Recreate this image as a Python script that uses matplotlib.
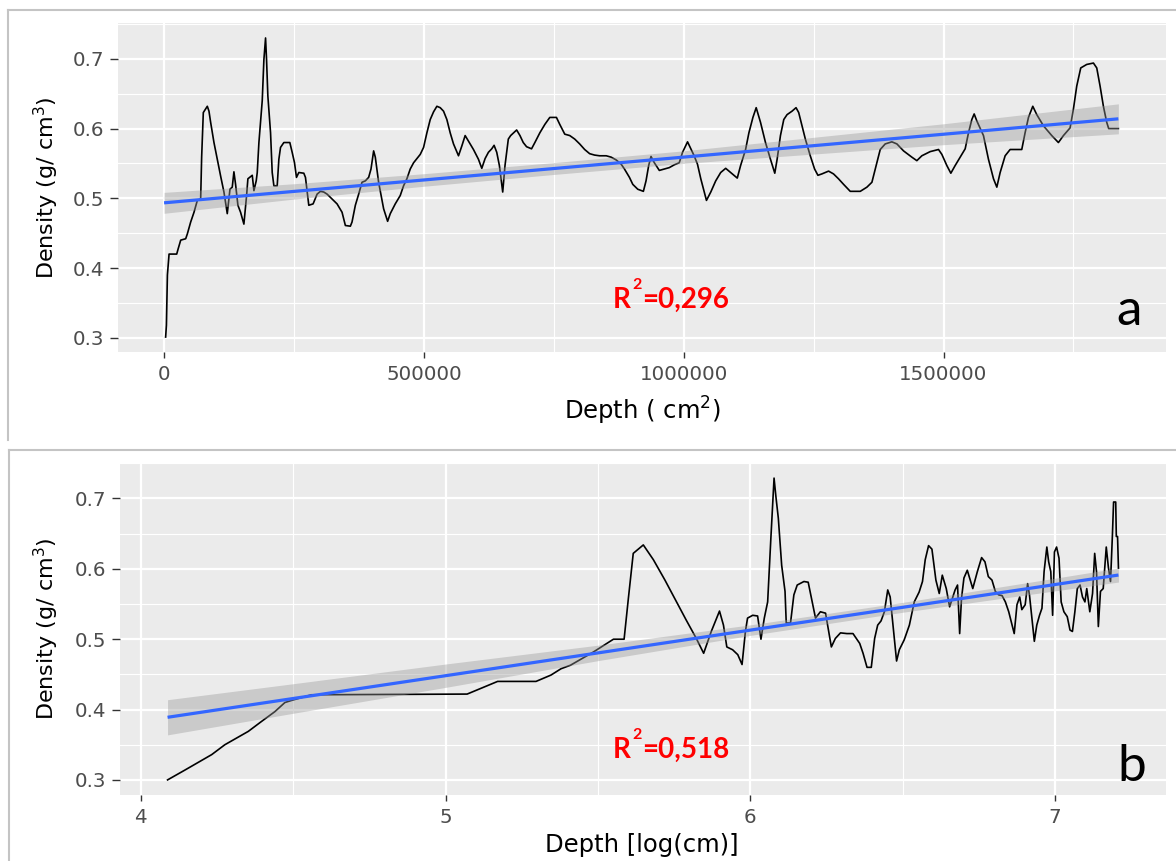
import numpy as np
import matplotlib
matplotlib.use("Agg")
import matplotlib.pyplot as plt
from matplotlib.ticker import FixedLocator
from matplotlib.lines import Line2D

# ---------------- data ----------------
depth_a = [3000, 4500, 6400, 9600, 24300, 26900, 32000, 41600, 44800, 51200,
           57600, 64000, 70400, 72300, 75500, 83200, 86400, 89600, 96000, 102400,
           108800, 115200, 121600, 126800, 131200, 134400, 137600, 142100, 147200, 153600,
           158800, 161300, 169700, 172900, 177300, 179300, 182500, 188900, 192100, 195300,
           197200, 199700, 204900, 208100, 211300, 217700, 220900, 224100, 230500, 242000,
           246500, 251000, 254800, 259300, 268900, 272100, 278500, 286800, 294500, 300900,
           307300, 313700, 323300, 332900, 342500, 348900, 358500, 361700, 368100, 374500,
           380900, 387300, 393700, 398200, 403300, 406500, 412900, 422500, 430200, 435300,
           444900, 454500, 460900, 467300, 473700, 480200, 486600, 493000, 499400, 505800,
           512200, 518600, 525000, 531400, 537800, 544200, 550600, 557000, 566600, 573000,
           579400, 585800, 595400, 605000, 611400, 617800, 624200, 630600, 635100, 640200,
           645300,
           651700, 656100, 662500, 667000, 678500, 684900, 691200, 697600, 707200, 713600,
           723200, 732800, 742300, 755100, 761500, 771100, 780700, 790200, 799800, 809400,
           819000, 828500, 838100, 850900, 860500, 870100, 879600, 886000, 895600, 902000,
           911600, 922400, 927500, 932600, 937100, 943500, 953100, 962700, 972200, 981800,
           991400, 997800, 1007400, 1013700, 1020100, 1026500, 1032900, 1043800, 1052100, 1061600,
           1071200, 1080800, 1090400, 1103100, 1109500, 1119100, 1125500, 1133200, 1139500, 1147800,
           1157400, 1167000, 1175300, 1179800, 1186200, 1192600, 1198900, 1208500, 1216200, 1221300,
           1227700, 1234100, 1243600, 1251900, 1258300, 1266000, 1278800, 1288300, 1297900,
           1307700, 1320500, 1339800, 1352600, 1362200, 1368600, 1378200, 1387800, 1400600, 1410300,
           1423100, 1439100, 1448700, 1458300, 1474400, 1490400, 1496800, 1506400, 1514100, 1522400,
           1532100, 1541700, 1548100, 1554500, 1559000, 1564100, 1576900, 1586500, 1596200, 1602600,
           1609000, 1618600, 1628200, 1650600, 1657000, 1663500, 1671800, 1679500, 1692300, 1708300,
           1721100, 1730800, 1743600, 1750000, 1756400, 1764100, 1775600, 1788500, 1794900, 1801300,
           1807700, 1814100, 1817900, 1836500]

density_a = [0.301, 0.318, 0.390, 0.420, 0.420, 0.427, 0.440, 0.442, 0.449, 0.466,
             0.480, 0.497, 0.499, 0.559, 0.623, 0.632, 0.625, 0.609, 0.580, 0.556,
             0.532, 0.509, 0.478, 0.513, 0.516, 0.538, 0.520, 0.490, 0.480, 0.463,
             0.504, 0.528, 0.533, 0.511, 0.525, 0.537, 0.580, 0.640, 0.699, 0.730,
             0.699, 0.647, 0.594, 0.537, 0.518, 0.518, 0.556, 0.573, 0.580, 0.580,
             0.566, 0.551, 0.530, 0.537, 0.536, 0.530, 0.490, 0.492, 0.506, 0.510,
             0.509, 0.506, 0.499, 0.492, 0.480, 0.461, 0.460, 0.466, 0.490, 0.506,
             0.523, 0.525, 0.530, 0.542, 0.568, 0.559, 0.523, 0.485, 0.467, 0.478,
             0.492, 0.504, 0.518, 0.528, 0.542, 0.551, 0.557, 0.563, 0.573, 0.594,
             0.613, 0.624, 0.632, 0.630, 0.625, 0.613, 0.594, 0.578, 0.561, 0.575,
             0.590, 0.582, 0.570, 0.556, 0.543, 0.557, 0.566, 0.571, 0.576, 0.566,
             0.547,
             0.509, 0.547, 0.585, 0.590, 0.598, 0.590, 0.580, 0.574, 0.571, 0.580,
             0.594, 0.606, 0.616, 0.616, 0.606, 0.592, 0.590, 0.585, 0.578, 0.570,
             0.564, 0.562, 0.561, 0.561, 0.559, 0.555, 0.549, 0.542, 0.530, 0.520,
             0.513, 0.510, 0.525, 0.547, 0.560, 0.551, 0.540, 0.542, 0.544, 0.548,
             0.551, 0.566, 0.581, 0.571, 0.561, 0.549, 0.528, 0.497, 0.509, 0.525,
             0.537, 0.543, 0.537, 0.529, 0.547, 0.570, 0.594, 0.616, 0.630, 0.609,
             0.580, 0.556, 0.536, 0.556, 0.590, 0.613, 0.620, 0.625, 0.630, 0.623,
             0.604, 0.585, 0.561, 0.542, 0.533, 0.535, 0.539, 0.535, 0.528,
             0.520, 0.510, 0.510, 0.516, 0.523, 0.542, 0.570, 0.578, 0.581, 0.578,
             0.568, 0.559, 0.554, 0.561, 0.567, 0.570, 0.563, 0.547, 0.536, 0.547,
             0.559, 0.571, 0.594, 0.613, 0.621, 0.611, 0.590, 0.556, 0.528, 0.516,
             0.537, 0.561, 0.570, 0.570, 0.594, 0.616, 0.632, 0.620, 0.604, 0.590,
             0.580, 0.590, 0.601, 0.628, 0.661, 0.687, 0.692, 0.694, 0.687, 0.661,
             0.632, 0.609, 0.600, 0.600]

logdepth_b = [4.088, 4.145, 4.233, 4.276, 4.353, 4.396, 4.440, 4.473, 4.495, 4.560,
              5.071, 5.171, 5.297, 5.346, 5.379, 5.410, 5.486, 5.551, 5.586, 5.600,
              5.616, 5.649, 5.682, 5.720, 5.752, 5.790, 5.823, 5.847, 5.872, 5.899,
              5.912, 5.923, 5.942, 5.959, 5.973, 5.984, 5.991, 6.008, 6.024, 6.035,
              6.046, 6.057, 6.067, 6.078, 6.084, 6.092, 6.103, 6.114, 6.118, 6.132,
              6.143, 6.154, 6.176, 6.190, 6.203, 6.214, 6.230, 6.247, 6.266, 6.279,
              6.296, 6.317, 6.337, 6.359, 6.370, 6.383, 6.397, 6.408, 6.418, 6.429,
              6.440, 6.451, 6.459, 6.467, 6.480, 6.489, 6.505, 6.522, 6.538, 6.554,
              6.565, 6.574, 6.585, 6.596, 6.609, 6.620, 6.630, 6.643, 6.654, 6.663,
              6.672, 6.680, 6.687, 6.693, 6.701, 6.712, 6.730, 6.745, 6.759, 6.770,
              6.781, 6.793, 6.804, 6.815, 6.826, 6.837, 6.848, 6.859, 6.866, 6.875,
              6.884, 6.891, 6.902, 6.910, 6.916, 6.924, 6.932, 6.940, 6.949, 6.957,
              6.964, 6.973, 6.979, 6.986, 6.992, 6.998, 7.005, 7.013, 7.020, 7.029,
              7.040, 7.049, 7.057, 7.065, 7.073, 7.082, 7.090, 7.098, 7.104, 7.114,
              7.123, 7.130, 7.136, 7.142, 7.149, 7.158, 7.163, 7.168, 7.175, 7.182,
              7.188, 7.192, 7.199, 7.201, 7.205, 7.208]

density_b = [0.300, 0.314, 0.336, 0.350, 0.369, 0.383, 0.397, 0.410, 0.413, 0.421,
             0.422, 0.440, 0.440, 0.449, 0.458, 0.463, 0.482, 0.500, 0.500, 0.558,
             0.622, 0.634, 0.613, 0.584, 0.558, 0.527, 0.501, 0.480, 0.511, 0.540,
             0.520, 0.489, 0.485, 0.478, 0.464, 0.511, 0.530, 0.534, 0.533, 0.500,
             0.530, 0.553, 0.639, 0.729, 0.703, 0.672, 0.605, 0.568, 0.523, 0.523,
             0.563, 0.577, 0.582, 0.581, 0.553, 0.530, 0.539, 0.537, 0.489, 0.501,
             0.509, 0.508, 0.508, 0.494, 0.480, 0.460, 0.460, 0.501, 0.520, 0.526,
             0.539, 0.570, 0.560, 0.525, 0.469, 0.485, 0.499, 0.520, 0.553, 0.567,
             0.582, 0.613, 0.633, 0.628, 0.584, 0.565, 0.591, 0.572, 0.546, 0.558,
             0.570, 0.577, 0.508, 0.558, 0.587, 0.598, 0.572, 0.596, 0.616, 0.610,
             0.589, 0.584, 0.568, 0.563, 0.562, 0.553, 0.539, 0.520, 0.508, 0.549,
             0.560, 0.542, 0.549, 0.579, 0.563, 0.530, 0.497, 0.520, 0.534, 0.544,
             0.596, 0.631, 0.610, 0.596, 0.534, 0.624, 0.631, 0.615, 0.553, 0.539,
             0.532, 0.513, 0.511, 0.539, 0.572, 0.577, 0.560, 0.553, 0.572, 0.539,
             0.565, 0.622, 0.596, 0.518, 0.568, 0.572, 0.601, 0.631, 0.602, 0.582,
             0.646, 0.695, 0.695, 0.646, 0.646, 0.601]

# linear fits with 95% confidence band
fit_a_x = [0, 250000, 500000, 750000, 1000000, 1250000, 1500000, 1836500]
fit_a_y = [0.4935, 0.5099, 0.5263, 0.5427, 0.5591, 0.5755, 0.5919, 0.6140]
fit_a_hw = [0.0150, 0.0110, 0.0090, 0.0085, 0.0090, 0.0120, 0.0150, 0.0215]

fit_b_x = [4.088, 4.5, 5.0, 5.5, 6.0, 6.5, 7.0, 7.208]
fit_b_y = [0.3890, 0.4157, 0.4481, 0.4805, 0.5129, 0.5453, 0.5777, 0.5912]
fit_b_hw = [0.0250, 0.0210, 0.0166, 0.0110, 0.0075, 0.0070, 0.0090, 0.0100]

r2_values = ["0,296", "0,518"]
panel_tags = ["a", "b"]
x_titles = ["Depth ( cm$^{2}$)", "Depth [log(cm)]"]
y_title = "Density (g/ cm$^{3}$)"
xticks_a = [0, 500000, 1000000, 1500000]
xminor_a = [250000, 750000, 1250000, 1750000]
xticks_b = [4, 5, 6, 7]
xminor_b = [4.5, 5.5, 6.5]
yticks = [0.3, 0.4, 0.5, 0.6, 0.7]
yminor = [0.35, 0.45, 0.55, 0.65, 0.75]

# ---------------- style ----------------
plt.rcParams["font.family"] = ["DejaVu Sans"]
plt.rcParams["mathtext.fontset"] = "custom"
plt.rcParams["mathtext.rm"] = "DejaVu Sans"
plt.rcParams["mathtext.it"] = "DejaVu Sans:italic"
plt.rcParams["mathtext.bf"] = "DejaVu Sans:bold"

W, H = 1176, 861
fig = plt.figure(figsize=(W / 100, H / 100), dpi=100)
fig.patch.set_facecolor("white")

PANEL = "#EBEBEB"
BLUE = "#3366FF"


def px_rect(l, t, r, b):
    return [l / W, 1 - b / H, (r - l) / W, (b - t) / H]


def expand(vals):
    lo, hi = min(vals), max(vals)
    d = (hi - lo) * 0.05
    return lo - d, hi + d


def style_axes(ax, xt, xm):
    ax.set_facecolor(PANEL)
    for s in ax.spines.values():
        s.set_visible(False)
    ax.xaxis.set_major_locator(FixedLocator(xt))
    ax.xaxis.set_minor_locator(FixedLocator(xm))
    ax.yaxis.set_major_locator(FixedLocator(yticks))
    ax.yaxis.set_minor_locator(FixedLocator(yminor))
    ax.grid(which="major", color="white", lw=1.6)
    ax.grid(which="minor", color="white", lw=0.8)
    ax.set_axisbelow(True)
    ax.tick_params(which="minor", length=0)
    ax.tick_params(axis="x", which="major", length=4.5, width=1.0, color="#333333",
                   labelcolor="#4D4D4D", labelsize=14.3, pad=5)
    ax.tick_params(axis="y", which="major", length=5.8, width=1.0, color="#333333",
                   labelcolor="#4D4D4D", labelsize=14.3, pad=4)


panels = [
    (px_rect(118, 23, 1166, 352), depth_a, density_a, fit_a_x, fit_a_y, fit_a_hw,
     xticks_a, xminor_a),
    (px_rect(120, 463, 1166, 795), logdepth_b, density_b, fit_b_x, fit_b_y, fit_b_hw,
     xticks_b, xminor_b),
]

axes = []
for rect, xs, ys, fx, fy, fhw, xt, xm in panels:
    ax = fig.add_axes(rect)
    style_axes(ax, xt, xm)
    ax.plot(xs, ys, color="black", lw=1.2, zorder=2)
    lo = [y - h for y, h in zip(fy, fhw)]
    hi = [y + h for y, h in zip(fy, fhw)]
    ax.fill_between(fx, lo, hi, color="#999999", alpha=0.4, lw=0, zorder=3)
    ax.plot(fx, fy, color=BLUE, lw=2.3, zorder=4, solid_capstyle="butt")
    ax.set_xlim(*expand(xs))
    ax.set_ylim(*expand(ys))
    ax.set_xticklabels(["%d" % v for v in xt])
    ax.set_yticklabels(["%.1f" % v for v in yticks])
    axes.append(ax)

# axis titles
fig.text(642 / W, 1 - 420 / H, x_titles[0], ha="center", va="baseline",
         fontsize=17.5, color="black")
fig.text(642 / W, 1 - 852 / H, x_titles[1], ha="center", va="baseline",
         fontsize=17.5, color="black")
fig.text(46 / W, 1 - 188 / H, y_title, rotation=90, ha="center", va="center",
         fontsize=16, color="black")
fig.text(46 / W, 1 - 629 / H, y_title, rotation=90, ha="center", va="center",
         fontsize=16, color="black")

# R^2 annotations: "R", raised small "2", then "=value"
fig.canvas.draw()
renderer = fig.canvas.get_renderer()
RED = "#FF0000"
for val, base in zip(r2_values, [308, 758]):
    r = fig.text(613 / W, 1 - base / H, "R", ha="left", va="baseline",
                 fontsize=20, color=RED, family="Lato", fontweight="bold")
    rx1 = r.get_window_extent(renderer).x1
    s = fig.text((rx1 + 1.5) / W, 1 - (base - 19) / H, "2", ha="left",
                 va="baseline", fontsize=11.5, color=RED, family="Lato",
                 fontweight="bold")
    sx1 = s.get_window_extent(renderer).x1
    fig.text((sx1 + 0.5) / W, 1 - base / H, "=" + val, ha="left", va="baseline",
             fontsize=20, color=RED, family="Lato", fontweight="bold")

# panel tags
fig.text(1116 / W, 1 - 325 / H, panel_tags[0], ha="left", va="baseline",
         fontsize=37, family="Lato", color="black")
fig.text(1117 / W, 1 - 781 / H, panel_tags[1], ha="left", va="baseline",
         fontsize=37, family="Lato", color="black")

# frames of the two pasted panels
FRAME = "#C4C4C4"
for (x0, y0, y1) in [(8, 10, 440), (9, 450, 870)]:
    fig.add_artist(Line2D([x0 / W, 1.01], [1 - y0 / H, 1 - y0 / H],
                          transform=fig.transFigure, color=FRAME, lw=1.5))
    fig.add_artist(Line2D([x0 / W, x0 / W], [1 - y0 / H, 1 - y1 / H],
                          transform=fig.transFigure, color=FRAME, lw=1.5))

fig.savefig("out.png", dpi=100, facecolor="white")
